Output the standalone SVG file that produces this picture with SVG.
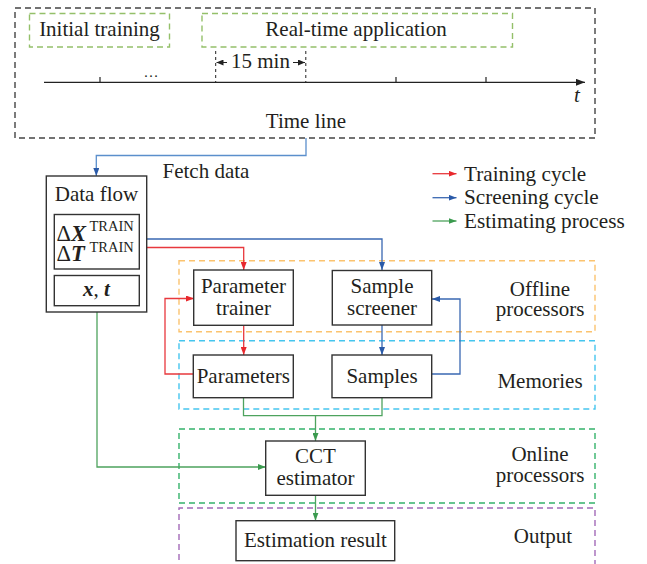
<svg xmlns="http://www.w3.org/2000/svg" width="647" height="564" viewBox="0 0 647 564">
<style>
text{font-family:"Liberation Serif","Times New Roman",serif;font-size:21px;fill:#231f20}
.c{text-anchor:middle}
.box{fill:#fff;stroke:#333;stroke-width:1.4}
.dash{fill:none;stroke-width:1.4;stroke-dasharray:6,4}
.ln{fill:none;stroke-width:1.3}
.r{stroke:#e8383d}
.b{stroke:#3a68b2}
.g{stroke:#4ea35e}
.bi{font-weight:bold;font-style:italic}
.sup{font-size:14.5px}
.big{font-size:22.5px}
</style>
<defs>
<marker id="ar" markerUnits="userSpaceOnUse" markerWidth="8" markerHeight="6" refX="8" refY="3" orient="auto"><path d="M0,0L8,3L0,6z" fill="#e8282d"/></marker>
<marker id="ab" markerUnits="userSpaceOnUse" markerWidth="8" markerHeight="6" refX="8" refY="3" orient="auto"><path d="M0,0L8,3L0,6z" fill="#2a5aa8"/></marker>
<marker id="ag" markerUnits="userSpaceOnUse" markerWidth="8" markerHeight="6" refX="8" refY="3" orient="auto"><path d="M0,0L8,3L0,6z" fill="#3a9a4e"/></marker>
<marker id="ak" markerUnits="userSpaceOnUse" markerWidth="9" markerHeight="7" refX="9" refY="3.5" orient="auto"><path d="M0,0L9,3.5L0,7z" fill="#222"/></marker>
<marker id="aks" markerUnits="userSpaceOnUse" markerWidth="7" markerHeight="6" refX="7" refY="3" orient="auto"><path d="M0,0L7,3L0,6z" fill="#222"/></marker>
</defs>

<g id="timeline">
<rect x="15" y="8" width="580" height="130" class="dash" stroke="#444"/>
<rect x="29.5" y="13.5" width="140" height="33.5" class="dash" stroke="#94c06a"/>
<text x="99.5" y="35.5" class="c">Initial training</text>
<rect x="202" y="13.5" width="310.5" height="33.5" class="dash" stroke="#94c06a"/>
<text x="356" y="35.5" class="c">Real-time application</text>
<line x1="44" y1="82.3" x2="585" y2="82.3" stroke="#222" stroke-width="1.3" marker-end="url(#ak)"/>
<g stroke="#222" stroke-width="1.2">
<line x1="100" y1="77" x2="100" y2="82"/>
<line x1="396" y1="77" x2="396" y2="82"/>
<line x1="486" y1="77" x2="486" y2="82"/>
</g>
<g stroke="#222" stroke-width="1" stroke-dasharray="3,3">
<line x1="215.7" y1="51" x2="215.7" y2="82"/>
<line x1="305.8" y1="51" x2="305.8" y2="82"/>
</g>
<line x1="227" y1="62.5" x2="216.5" y2="62.5" stroke="#222" stroke-width="1" marker-end="url(#aks)"/>
<line x1="293" y1="62.5" x2="305" y2="62.5" stroke="#222" stroke-width="1" marker-end="url(#aks)"/>
<text x="260.5" y="67.5" class="c">15 min</text>
<text x="151" y="77" class="c" style="font-size:15px">…</text>
<text x="577" y="102" class="c" font-style="italic">t</text>
<text x="306" y="128" class="c">Time line</text>
</g>

<g id="legend">
<line x1="432.5" y1="173.7" x2="456.5" y2="173.7" class="ln r" marker-end="url(#ar)"/>
<line x1="432.5" y1="197.7" x2="456.5" y2="197.7" class="ln b" marker-end="url(#ab)"/>
<line x1="432.5" y1="221" x2="456.5" y2="221" class="ln g" marker-end="url(#ag)"/>
<text x="464" y="180.5" style="font-size:21.2px">Training cycle</text>
<text x="464" y="204" style="font-size:21.2px">Screening cycle</text>
<text x="464" y="227.5" style="font-size:21.2px">Estimating process</text>
</g>

<g id="regions">
<rect x="179" y="260.7" width="416" height="71" class="dash" stroke="#fbc36f"/>
<text class="c"><tspan x="540" y="295.7">Offline</tspan><tspan x="540" y="316">processors</tspan></text>
<rect x="179" y="340.7" width="416" height="68.3" class="dash" stroke="#45c5ee"/>
<text x="540" y="388" class="c">Memories</text>
<rect x="179" y="429" width="416" height="74" class="dash" stroke="#35b36b"/>
<text class="c"><tspan x="540" y="461">Online</tspan><tspan x="540" y="482">processors</tspan></text>
<path d="M179,570V508H595V570" class="dash" stroke="#a36bb8"/>
<text x="543" y="543" class="c">Output</text>
</g>

<g id="connectors">
<path d="M306,138V155.5H96.3V176" class="ln" stroke="#5b8fcc" marker-end="url(#ab)"/>
<text x="162.5" y="178">Fetch data</text>
<path d="M139.3,239H382V270" class="ln b" marker-end="url(#ab)"/>
<path d="M139.3,247.5H243.7V270" class="ln r" marker-end="url(#ar)"/>
<path d="M243.7,325V355" class="ln r" marker-end="url(#ar)"/>
<path d="M193.5,374H165V298.5H194" class="ln r" marker-end="url(#ar)"/>
<path d="M382,325V355" class="ln b" marker-end="url(#ab)"/>
<path d="M432,374H460V299H432" class="ln b" marker-end="url(#ab)"/>
<path d="M243.5,398V415.7H382V398" class="ln g"/>
<path d="M315.5,415.7V441" class="ln g" marker-end="url(#ag)"/>
<path d="M97,305.7V467H265.7" class="ln g" marker-end="url(#ag)"/>
<path d="M315.5,495.3V520.7" class="ln g" marker-end="url(#ag)"/>
</g>

<g id="dataflow">
<rect x="46.3" y="176" width="100.4" height="136" class="box"/>
<text x="96.5" y="201" class="c">Data flow</text>
<rect x="54.3" y="214.5" width="85" height="54.5" class="box"/>
<text><tspan class="big" x="56.5" y="240.5">Δ</tspan><tspan class="bi big">X</tspan><tspan class="sup" x="89.5" y="231">TRAIN</tspan><tspan class="big" x="56.5" y="261">Δ</tspan><tspan class="bi big">T</tspan><tspan class="sup" x="89.5" y="252">TRAIN</tspan></text>
<rect x="54.3" y="275.5" width="85" height="30.2" class="box"/>
<text x="96.5" y="296" class="c"><tspan class="bi">x</tspan>, <tspan class="bi">t</tspan></text>
</g>

<g id="parameter-trainer">
<rect x="193.7" y="270" width="99.6" height="55.3" class="box"/>
<text class="c"><tspan x="243.5" y="292.5">Parameter</tspan><tspan x="243.5" y="315">trainer</tspan></text>
</g>
<g id="sample-screener">
<rect x="332.3" y="270.5" width="99.4" height="54.5" class="box"/>
<text class="c"><tspan x="382" y="292.7">Sample</tspan><tspan x="382" y="315">screener</tspan></text>
</g>
<g id="parameters">
<rect x="193.3" y="355" width="100" height="42.7" class="box"/>
<text x="243.3" y="382.5" class="c">Parameters</text>
</g>
<g id="samples">
<rect x="332" y="355" width="99.7" height="42.7" class="box"/>
<text x="382" y="382.5" class="c">Samples</text>
</g>
<g id="cct-estimator">
<rect x="265.7" y="441" width="99.6" height="54.3" class="box"/>
<text class="c"><tspan x="315.5" y="462.7">CCT</tspan><tspan x="315.5" y="485.3">estimator</tspan></text>
</g>
<g id="estimation-result">
<rect x="236" y="520.7" width="158.7" height="40" class="box"/>
<text x="315.5" y="547.3" class="c">Estimation result</text>
</g>
</svg>
